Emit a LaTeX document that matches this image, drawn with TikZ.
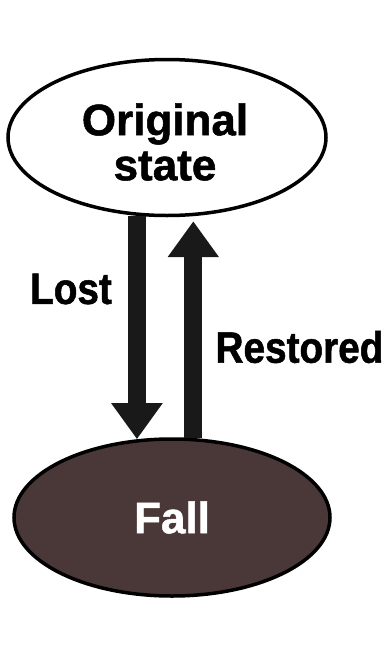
\documentclass[tikz,border=0pt]{standalone}
\usepackage{fontspec}
\setmainfont{Liberation Sans}[BoldFeatures={FakeBold=1.2}]
\newfontfamily\tagfont{Liberation Sans}[FakeStretch=0.88,
                                        BoldFeatures={FakeBold=1.2}]
\usetikzlibrary{shapes.geometric, arrows.meta, positioning}
\definecolor{fallfill}{RGB}{74,56,56}

\begin{document}
\begin{tikzpicture}[x=1pt, y=-1pt,
    state/.style={ellipse, draw=black, line width=3.5pt,
                  align=center, inner sep=0pt,
                  font=\fontsize{44}{45}\selectfont\bfseries},
    tag/.style={font=\fontsize{44}{45}\selectfont\tagfont\bfseries,
                inner sep=0pt},
    bigarrow/.style={-{Triangle[length=36pt,width=49pt]},
                     line width=18pt, color=black!90},
]
\useasboundingbox (0,0) rectangle (387,667);

% ==========================================================
% The two states
% ==========================================================
\node[state, fill=white, minimum width=318pt, minimum height=156pt]
    (orig) at (167,137.5) {};
\node[font=\fontsize{44}{45}\selectfont\bfseries, align=center,
      inner sep=0pt] (origtxt) at (165,142) {Original\\state};

\node[state, fill=fallfill, text=white,
      minimum width=316pt, minimum height=157pt]
    (fall) at (172,517.5) {Fall};

% -------- transitions -----------
\draw[bigarrow] (orig.249) -- (orig.249 |- fall.114);
\draw[bigarrow, shorten >=5pt] (fall.75.6) -- (fall.75.6 |- orig.-72);

\node[tag] (lost) at (71,289) {Lost};
\node[tag] (restored) at (299.5,347) {Restored};

\end{tikzpicture}
\end{document}
